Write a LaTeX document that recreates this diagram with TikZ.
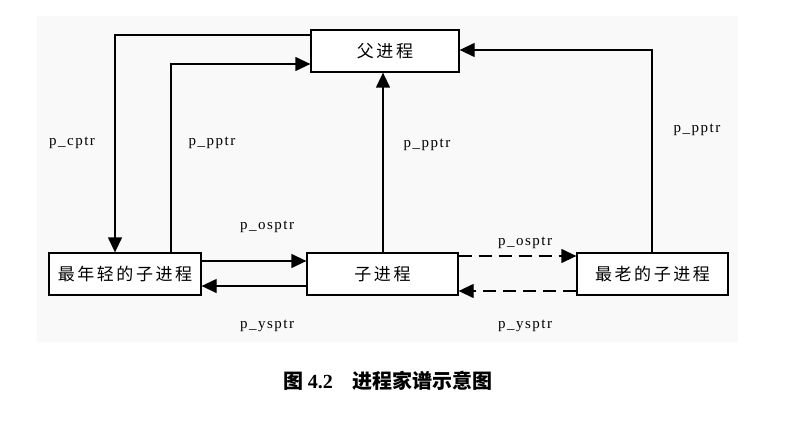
\documentclass[tikz,border=0pt]{standalone}
\usepackage{fontspec}
\setmainfont{Liberation Serif}
\newfontfamily\cjk[LetterSpace=15]{Noto Sans CJK SC}
\newfontfamily\cjkcap{Noto Sans CJK SC}
\newfontfamily\lbl[LetterSpace=10]{Liberation Serif}
\usetikzlibrary{arrows.meta}
\begin{document}
\begin{tikzpicture}[x=1pt,y=-1pt,
  box/.style={draw,line width=1.3pt,fill=white,inner sep=0pt,minimum height=42pt,font=\cjk\fontsize{17}{17}\selectfont},
  conn/.style={line width=1.3pt,-{Triangle[length=15pt,width=14pt]}},
  dconn/.style={conn,dash pattern=on 13pt off 7pt},
  lab/.style={font=\lbl\fontsize{15}{15}\selectfont,inner sep=0pt}]
\useasboundingbox (0,0) rectangle (797,422);
\fill[black!2.5] (37,16) rectangle (738,342);
\node[box,minimum width=148pt] (par) at (385,51) {父进程};
\node[box,minimum width=152pt] (yng) at (125,274) {最年轻的子进程};
\node[box,minimum width=151pt] (chd) at (382.5,274) {子进程};
\node[box,minimum width=151pt] (old) at (652.5,274) {最老的子进程};
% p_cptr
\coordinate (c1) at (115,35);
\draw[conn] (par.west|-c1) -- (c1) -- (c1|-yng.north);
% p_pptr youngest
\coordinate (c2) at (171,64);
\draw[conn] (c2|-yng.north) -- (c2) -- (par.west|-c2);
% p_pptr child
\coordinate (c4) at (383,0);
\draw[conn] (c4|-chd.north) -- (c4|-par.south);
% p_pptr eldest
\coordinate (c3) at (652,50);
\draw[conn] (c3|-old.north) -- (c3) -- (par.east|-c3);
% siblings
\coordinate (y1) at (0,261);
\coordinate (y2) at (0,286);
\coordinate (y3) at (0,256);
\coordinate (y4) at (0,291);
\draw[conn] (yng.east|-y1) -- (chd.west|-y1);
\draw[conn] (chd.west|-y2) -- (yng.east|-y2);
\draw[dconn] (chd.east|-y3) -- (old.west|-y3);
\draw[dconn] (old.west|-y4) -- (chd.east|-y4);
% labels
\node[lab] (l1) at (72,143) {p\_cptr};
\node[lab] (l2) at (212,143) {p\_pptr};
\node[lab] (l3) at (427,145) {p\_pptr};
\node[lab] (l4) at (697,130) {p\_pptr};
\node[lab] (l5) at (267,227) {p\_osptr};
\node[lab] (l6) at (267,326) {p\_ysptr};
\node[lab] (l7) at (525,243) {p\_osptr};
\node[lab] (l8) at (525,326) {p\_ysptr};
\node[inner sep=0pt] (cap) at (388,381) {\cjkcap\fontsize{20}{20}\selectfont\bfseries 图 {\rmfamily 4.2}\hspace{20pt}进程家谱示意图};
\end{tikzpicture}
\end{document}
